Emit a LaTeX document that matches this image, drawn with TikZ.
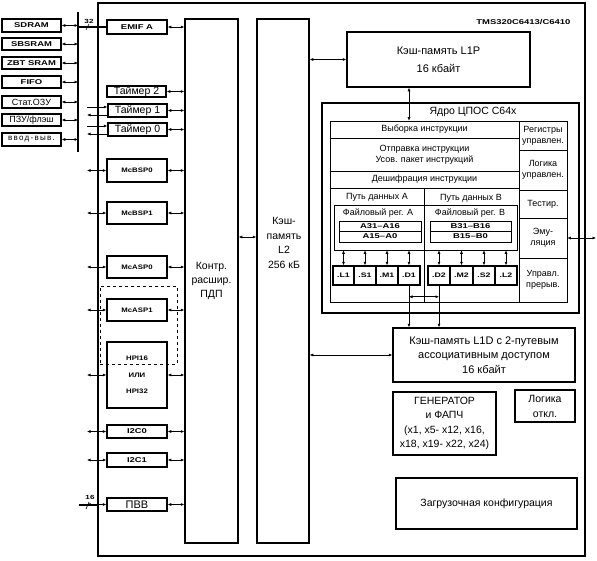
\documentclass[tikz,border=0pt]{standalone}
\usepackage{fontspec}
\setmainfont{Liberation Sans}
\newfontfamily\lblfont[FakeStretch=1.35,UprightFont=* Bold]{Liberation Sans}
\newfontfamily\lblfontb[FakeStretch=1.2,UprightFont=* Bold]{Liberation Sans}
\newfontfamily\spfont[LetterSpace=16]{Liberation Sans}
\usetikzlibrary{arrows.meta}
\newcommand\bxx[7][]{%
  \pgfmathsetmacro\bxxw{#5-#3}\pgfmathsetmacro\bxxh{#6-#4}%
  \node[#1,minimum width=\bxxw pt,minimum height=\bxxh pt] (#2) at ({(#3+#5)/2},{(#4+#6)/2}) {#7};}
\begin{document}
\begin{tikzpicture}[x=1pt,y=-1pt,
  >={Latex[length=3.5pt,width=3pt]},
  box/.style={draw,line width=1.5pt,inner sep=0pt,align=center,font=\fontsize{10.5}{14}\selectfont},
  tbox/.style={draw,line width=0.6pt,inner sep=0pt,align=center,font=\fontsize{9}{11}\selectfont},
  ubox/.style={draw,line width=1.5pt,inner sep=0pt,font=\lblfont\fontsize{6.5}{7}\selectfont},
  lblA/.style={font=\lblfont\fontsize{7}{8}\selectfont},
  lblB/.style={font=\lblfontb\fontsize{6.5}{7}\selectfont},
  sm/.style={font=\fontsize{9}{10}\selectfont},
  dbl/.style={<->,line width=0.6pt},
  sgl/.style={->,line width=0.6pt},
  bus/.style={line width=2.4pt}]
\useasboundingbox (0,0) rectangle (597,560);

% chip
\bxx[box]{chip}{98}{3}{585}{556}{}
\node[lblA,anchor=east] (tms) at (574,22) {TMS320C6413/C6410};

% external devices
\bxx[box,lblA]{sdram}{2}{19}{61}{32}{SDRAM}
\bxx[box,lblA]{sbsram}{2}{38}{61}{50}{SBSRAM}
\bxx[box,lblA]{zbt}{2}{57}{61}{69}{ZBT SRAM}
\bxx[box,lblA]{fifo}{2}{76}{61}{88}{FIFO}
\bxx[box,sm]{sram}{2}{96}{61}{108}{Стат.ОЗУ}
\bxx[box,sm]{rom}{2}{114}{61}{126}{ПЗУ/флэш}
\bxx[box,font=\spfont\fontsize{8}{9}\selectfont]{io}{2}{133}{61}{146}{ввод-выв.}
\coordinate (busT) at (78,12);
\coordinate (busB) at (78,152);
\draw[bus] (busT) -- (busB);
\foreach \n in {sdram,sbsram,zbt,fifo,sram,rom,io}
  \draw[dbl] (\n.east) -- (\n.east -| busT);

% peripherals
\bxx[box,lblA]{emif}{107}{20}{167}{34}{EMIF A}
\draw[bus] (emif.west -| busT) -- (emif.west);
\node[font=\lblfont\fontsize{6}{7}\selectfont] (n32) at (89,21) {32};
\draw[line width=0.6pt] (86,30) -- (89,24);

\bxx[box,font=\fontsize{10.5}{12}\selectfont]{t2}{107}{86}{166}{97}{Таймер 2}
\bxx[box,font=\fontsize{10.5}{12}\selectfont]{t1}{108}{104}{167}{117}{Таймер 1}
\bxx[box,font=\fontsize{10.5}{12}\selectfont]{t0}{108}{123}{167}{136}{Таймер 0}
\coordinate (extL) at (87,0);
\draw[<-,line width=0.6pt] ([yshift=3.5pt]t1.west) -- ([yshift=3.5pt]t1.west -| extL);
\draw[->,line width=0.6pt] ([yshift=-4.5pt]t1.west) -- ([yshift=-4.5pt]t1.west -| extL);
\draw[<-,line width=0.6pt] ([yshift=3.5pt]t0.west) -- ([yshift=3.5pt]t0.west -| extL);
\draw[->,line width=0.6pt] ([yshift=-4.5pt]t0.west) -- ([yshift=-4.5pt]t0.west -| extL);

\bxx[box,lblB]{mcbsp0}{107}{159}{167}{182}{McBSP0}
\bxx[box,lblB]{mcbsp1}{107}{202}{167}{224}{McBSP1}
\bxx[box,lblB]{mcasp0}{107}{256}{167}{278}{McASP0}
\bxx[draw,dashed,line width=0.8pt,inner sep=0pt]{grp}{100}{286}{177}{364}{}
\bxx[box,lblB]{mcasp1}{107}{299}{167}{321}{McASP1}
\bxx[box]{hpi}{107}{342}{167}{408}{}
\node[lblB,align=center] (hpitxt) at (hpi) {HPI16\\[10pt]ИЛИ\\[9pt]HPI32};
\bxx[box,lblA]{iic0}{107}{425}{167}{438}{I2C0}
\bxx[box,lblA]{iic1}{107}{453}{167}{467}{I2C1}
\bxx[box,font=\fontsize{11}{12}\selectfont]{pvv}{107}{498}{167}{511}{ПВВ}

\foreach \n in {mcbsp0,mcbsp1,mcasp0,mcasp1,hpi,iic0,iic1,pvv}
  \draw[dbl] (\n.west) -- (\n.west -| extL);
\coordinate (pvvL) at (79,505);
\draw[line width=2pt] (pvvL) -- (pvvL -| chip.west);
\node[font=\lblfont\fontsize{6}{7}\selectfont] (n16) at (90,497) {16};
\draw[line width=0.6pt] (86,509) -- (89,502);

% DMA and L2
\bxx[box,font=\fontsize{10.5}{14}\selectfont]{dma}{185}{19}{238}{543}{Контр.\\расшир.\\ПДП}
\bxx[box]{l2}{257}{19}{309}{543}{}
\node[align=center,font=\fontsize{10.5}{14.5}\selectfont] (l2txt) at (284,243) {Кэш-\\память\\L2\\256 кБ};
\foreach \n in {emif,t2,t1,t0,mcbsp0,mcbsp1,mcasp0,mcasp1,hpi,iic0,iic1,pvv}
  \draw[dbl] (\n.east) -- (\n.east -| dma.west);
\draw[dbl] ([yshift=44pt]dma.east) -- ([yshift=44pt]dma.east -| l2.west);

% L1P
\bxx[box,font=\fontsize{11}{18}\selectfont]{l1p}{347}{32}{530}{87}{Кэш-память L1P\\16 кбайт}
\draw[dbl] (l2.east |- l1p.west) -- (l1p.west);

% core
\bxx[box,line width=2pt]{core}{322}{103}{579}{313}{}
\node[font=\fontsize{10.5}{12}\selectfont] (coretitle) at (473,112) {Ядро ЦПОС С64х};
\bxx[tbox]{fetch}{330}{121}{519}{138}{Выборка инструкции}
\bxx[tbox]{disp}{330}{138}{519}{171}{Отправка инструкции\\Усов. пакет инструкций}
\bxx[tbox]{dec}{330}{171}{519}{188}{Дешифрация инструкции}
\bxx[tbox]{pathA}{330}{188}{424}{302}{}
\bxx[tbox]{pathB}{424}{188}{519}{302}{}
\node[sm] (pathAt) at (377,197) {Путь данных А};
\node[sm] (pathBt) at (471,198) {Путь данных В};
\bxx[tbox]{reg}{519}{121}{567}{150}{Регистры\\управлен.}
\bxx[tbox]{ctl}{519}{150}{567}{190}{Логика\\управлен.}
\bxx[tbox]{test}{519}{190}{567}{218}{Тестир.}
\bxx[tbox]{emu}{519}{218}{567}{258}{Эму-\\ляция}
\bxx[tbox]{intr}{519}{258}{567}{302}{Управл.\\прерыв.}
\coordinate (emuR) at (596,238);
\draw[dbl] (emu.east) -- (emuR);

\bxx[tbox]{frA}{334}{205}{424}{250}{}
\bxx[tbox]{frB}{424}{205}{517}{250}{}
\node[sm] (frAt) at (378,213) {Файловый рег. А};
\node[sm] (frBt) at (470,213) {Файловый рег. В};
\bxx[tbox,lblA]{a31}{339}{221}{421}{231}{A31–A16}
\bxx[tbox,lblA]{a15}{339}{231}{421}{242}{A15–A0}
\bxx[tbox,lblA]{b31}{430}{221}{511}{231}{B31–B16}
\bxx[tbox,lblA]{b15}{430}{231}{511}{242}{B15–B0}

\bxx[ubox]{l1}{333}{266}{354}{285}{.L1}
\bxx[ubox]{s1}{354}{266}{376}{285}{.S1}
\bxx[ubox]{m1}{376}{266}{398}{285}{.M1}
\bxx[ubox]{d1}{398}{266}{420}{285}{.D1}
\bxx[ubox]{d2}{428}{266}{450}{285}{.D2}
\bxx[ubox]{m2}{450}{266}{473}{285}{.M2}
\bxx[ubox]{s2}{473}{266}{495}{285}{.S2}
\bxx[ubox]{l2u}{495}{266}{517}{285}{.L2}
\foreach \n in {l1,s1,m1,d1} \draw[dbl] (\n.north |- frA.south) -- (\n.north);
\foreach \n in {d2,m2,s2,l2u} \draw[dbl] (\n.north |- frB.south) -- (\n.north);

\draw[dbl] (l1p.south -| d1.north) -- (fetch.north -| d1.north);

% L1D
\bxx[box,font=\fontsize{11}{14.5}\selectfont]{l1d}{393}{328}{575}{382}{Кэш-память L1D с 2-путевым\\ассоциативным доступом\\16 кбайт}
\draw[sgl] (d1.south) -- (d1.south |- l1d.north);
\draw[sgl] (d2.south) -- (d2.south |- l1d.north);
\draw[dbl] ([yshift=-11pt]d1.south) -- ([yshift=-11pt]d1.south -| d2.south);
\draw[dbl] (l2.east |- l1d.west) -- (l1d.west);

% others
\bxx[box,font=\fontsize{10.5}{14.5}\selectfont]{gen}{393}{392}{496}{455}{ГЕНЕРАТОР\\и ФАПЧ\\(x1, x5- x12, x16,\\x18, x19- x22, x24)}
\bxx[box,font=\fontsize{10.5}{15}\selectfont]{off}{515}{390}{575}{422}{Логика\\откл.}
\bxx[box,font=\fontsize{10.5}{12}\selectfont]{boot}{396}{478}{577}{529}{Загрузочная конфигурация}
\end{tikzpicture}
\end{document}
